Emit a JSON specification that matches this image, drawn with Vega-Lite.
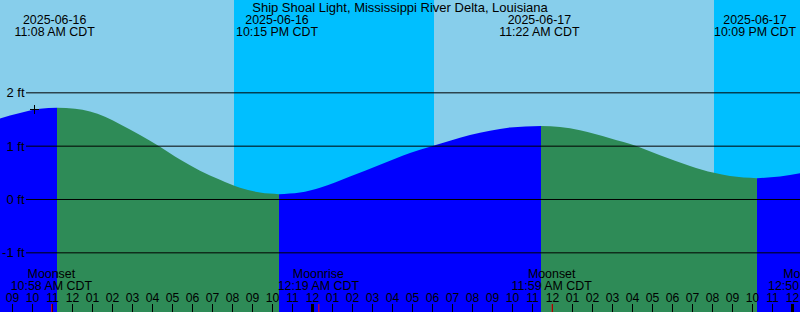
{
  "$schema": "https://vega.github.io/schema/vega-lite/v6.json",
  "width": 800,
  "height": 312,
  "autosize": {"type": "none"},
  "padding": 0,
  "background": "#87CEEB",
  "config": {"view": {"stroke": null}, "font": "Liberation Sans"},
  "datasets": {
    "night": [
      {"start": 20.1, "end": 30.1},
      {"start": 44.1, "end": 48.4}
    ],
    "tide": [
      {"hour": 8.4, "ft": 1.52, "seg": "a", "phase": "rising"},
      {"hour": 9.4, "ft": 1.62, "seg": "a", "phase": "rising"},
      {"hour": 10.4, "ft": 1.70, "seg": "a", "phase": "rising"},
      {"hour": 11.25, "ft": 1.72, "seg": "a", "phase": "rising"},
      {"hour": 11.25, "ft": 1.72, "seg": "b", "phase": "falling"},
      {"hour": 12.15, "ft": 1.70, "seg": "b", "phase": "falling"},
      {"hour": 12.9, "ft": 1.65, "seg": "b", "phase": "falling"},
      {"hour": 13.65, "ft": 1.55, "seg": "b", "phase": "falling"},
      {"hour": 14.4, "ft": 1.41, "seg": "b", "phase": "falling"},
      {"hour": 15.4, "ft": 1.21, "seg": "b", "phase": "falling"},
      {"hour": 16.4, "ft": 0.99, "seg": "b", "phase": "falling"},
      {"hour": 17.4, "ft": 0.75, "seg": "b", "phase": "falling"},
      {"hour": 18.4, "ft": 0.54, "seg": "b", "phase": "falling"},
      {"hour": 19.4, "ft": 0.37, "seg": "b", "phase": "falling"},
      {"hour": 20.4, "ft": 0.22, "seg": "b", "phase": "falling"},
      {"hour": 21.4, "ft": 0.13, "seg": "b", "phase": "falling"},
      {"hour": 22.35, "ft": 0.10, "seg": "b", "phase": "falling"},
      {"hour": 22.35, "ft": 0.10, "seg": "c", "phase": "rising"},
      {"hour": 23.4, "ft": 0.13, "seg": "c", "phase": "rising"},
      {"hour": 24.4, "ft": 0.22, "seg": "c", "phase": "rising"},
      {"hour": 25.9, "ft": 0.43, "seg": "c", "phase": "rising"},
      {"hour": 27.4, "ft": 0.65, "seg": "c", "phase": "rising"},
      {"hour": 28.9, "ft": 0.87, "seg": "c", "phase": "rising"},
      {"hour": 29.9, "ft": 0.99, "seg": "c", "phase": "rising"},
      {"hour": 30.9, "ft": 1.10, "seg": "c", "phase": "rising"},
      {"hour": 31.9, "ft": 1.21, "seg": "c", "phase": "rising"},
      {"hour": 32.9, "ft": 1.29, "seg": "c", "phase": "rising"},
      {"hour": 33.9, "ft": 1.35, "seg": "c", "phase": "rising"},
      {"hour": 35.45, "ft": 1.38, "seg": "c", "phase": "rising"},
      {"hour": 35.45, "ft": 1.38, "seg": "d", "phase": "falling"},
      {"hour": 36.4, "ft": 1.36, "seg": "d", "phase": "falling"},
      {"hour": 37.4, "ft": 1.30, "seg": "d", "phase": "falling"},
      {"hour": 38.9, "ft": 1.15, "seg": "d", "phase": "falling"},
      {"hour": 40.25, "ft": 1.00, "seg": "d", "phase": "falling"},
      {"hour": 41.4, "ft": 0.83, "seg": "d", "phase": "falling"},
      {"hour": 42.9, "ft": 0.63, "seg": "d", "phase": "falling"},
      {"hour": 44.1, "ft": 0.50, "seg": "d", "phase": "falling"},
      {"hour": 44.9, "ft": 0.44, "seg": "d", "phase": "falling"},
      {"hour": 46.25, "ft": 0.40, "seg": "d", "phase": "falling"},
      {"hour": 46.25, "ft": 0.40, "seg": "e", "phase": "rising"},
      {"hour": 47.4, "ft": 0.43, "seg": "e", "phase": "rising"},
      {"hour": 48.4, "ft": 0.49, "seg": "e", "phase": "rising"}
    ],
    "levels": [{"ft": 2}, {"ft": 1}, {"ft": 0}, {"ft": -1}],
    "hours": [
      {"hour": 9, "label": "09"}, {"hour": 10, "label": "10"}, {"hour": 11, "label": "11"}, {"hour": 12, "label": "12"},
      {"hour": 13, "label": "01"}, {"hour": 14, "label": "02"}, {"hour": 15, "label": "03"}, {"hour": 16, "label": "04"},
      {"hour": 17, "label": "05"}, {"hour": 18, "label": "06"}, {"hour": 19, "label": "07"}, {"hour": 20, "label": "08"},
      {"hour": 21, "label": "09"}, {"hour": 22, "label": "10"}, {"hour": 23, "label": "11"}, {"hour": 24, "label": "12"},
      {"hour": 25, "label": "01"}, {"hour": 26, "label": "02"}, {"hour": 27, "label": "03"}, {"hour": 28, "label": "04"},
      {"hour": 29, "label": "05"}, {"hour": 30, "label": "06"}, {"hour": 31, "label": "07"}, {"hour": 32, "label": "08"},
      {"hour": 33, "label": "09"}, {"hour": 34, "label": "10"}, {"hour": 35, "label": "11"}, {"hour": 36, "label": "12"},
      {"hour": 37, "label": "01"}, {"hour": 38, "label": "02"}, {"hour": 39, "label": "03"}, {"hour": 40, "label": "04"},
      {"hour": 41, "label": "05"}, {"hour": 42, "label": "06"}, {"hour": 43, "label": "07"}, {"hour": 44, "label": "08"},
      {"hour": 45, "label": "09"}, {"hour": 46, "label": "10"}, {"hour": 47, "label": "11"}, {"hour": 48, "label": "12"}
    ],
    "tideEvents": [
      {"hour": 11.133, "label": "2025-06-16\n11:08 AM CDT"},
      {"hour": 22.25, "label": "2025-06-16\n10:15 PM CDT"},
      {"hour": 35.367, "label": "2025-06-17\n11:22 AM CDT"},
      {"hour": 46.15, "label": "2025-06-17\n10:09 PM CDT"}
    ],
    "moonEvents": [
      {"hour": 10.967, "label": "Moonset\n10:58 AM CDT"},
      {"hour": 24.317, "label": "Moonrise\n12:19 AM CDT"},
      {"hour": 35.983, "label": "Moonset\n11:59 AM CDT"},
      {"hour": 48.833, "label": "Moonrise\n12:50 AM CDT"}
    ],
    "midnights": [{"hour": 24}, {"hour": 48}],
    "now": [{"hour": 10.125, "ft": 1.6875}],
    "titles": [{"hour": 28.4, "label": "Ship Shoal Light, Mississippi River Delta, Louisiana"}]
  },
  "layer": [
    {
      "data": {"name": "night"},
      "mark": {"type": "rect", "color": "#00BFFF", "opacity": 1, "clip": true},
      "encoding": {
        "x": {"field": "start", "type": "quantitative", "axis": null},
        "x2": {"field": "end"}
      }
    },
    {
      "data": {"name": "tide"},
      "mark": {"type": "area", "interpolate": "monotone", "opacity": 1, "clip": true},
      "encoding": {
        "x": {
          "field": "hour",
          "type": "quantitative",
          "scale": {"domain": [8.4, 48.4], "nice": false, "zero": false},
          "axis": null
        },
        "y": {
          "field": "ft",
          "type": "quantitative",
          "stack": null,
          "scale": {"domain": [-2.1094, 3.7406], "nice": false, "zero": false},
          "axis": {
            "orient": "left",
            "offset": -26,
            "values": [2, 1, 0, -1],
            "domain": false,
            "grid": false,
            "ticks": false,
            "tickSize": 0,
            "labelExpr": "datum.value + ' ft'",
            "labelFont": "Liberation Sans",
            "labelFontSize": 13,
            "labelColor": "#000000",
            "labelPadding": 2,
            "labelBaseline": "middle",
            "labelOverlap": false,
            "labelBound": false,
            "title": null,
            "zindex": 2
          }
        },
        "y2": {"datum": -2.1094},
        "color": {
          "field": "phase",
          "type": "nominal",
          "scale": {"domain": ["rising", "falling"], "range": ["#0000FF", "#2E8B57"]},
          "legend": null
        },
        "detail": {"field": "seg", "type": "nominal"}
      }
    },
    {
      "data": {"name": "levels"},
      "mark": {"type": "rule", "color": "#000000", "strokeWidth": 1},
      "encoding": {
        "y": {"field": "ft", "type": "quantitative"},
        "x": {"datum": 9.7},
        "x2": {"datum": 48.4}
      }
    },
    {
      "data": {"name": "tideEvents"},
      "mark": {"type": "text", "align": "center", "baseline": "alphabetic", "lineBreak": "\n", "lineHeight": 12, "font": "Liberation Sans", "fontSize": 12.4, "color": "#000000"},
      "encoding": {
        "x": {"field": "hour", "type": "quantitative"},
        "y": {"datum": 3.2906},
        "text": {"field": "label"}
      }
    },
    {
      "data": {"name": "moonEvents"},
      "mark": {"type": "text", "align": "center", "baseline": "alphabetic", "lineBreak": "\n", "lineHeight": 12, "font": "Liberation Sans", "fontSize": 12.4, "color": "#000000"},
      "encoding": {
        "x": {"field": "hour", "type": "quantitative"},
        "y": {"datum": -1.4719},
        "text": {"field": "label"}
      }
    },
    {
      "data": {"name": "hours"},
      "mark": {"type": "text", "align": "center", "baseline": "alphabetic", "font": "Liberation Sans", "fontSize": 12.2, "color": "#000000", "xOffset": 0.5},
      "encoding": {
        "x": {"field": "hour", "type": "quantitative"},
        "y": {"datum": -1.9219},
        "text": {"field": "label"}
      }
    },
    {
      "data": {"name": "titles"},
      "mark": {"type": "text", "align": "center", "baseline": "alphabetic", "font": "Liberation Sans", "fontSize": 13, "color": "#000000"},
      "encoding": {
        "x": {"field": "hour", "type": "quantitative"},
        "y": {"datum": 3.5156},
        "text": {"field": "label"}
      }
    },
    {
      "data": {"name": "hours"},
      "mark": {"type": "rule", "color": "#000000", "strokeWidth": 1, "xOffset": 0.5, "clip": true},
      "encoding": {
        "x": {"field": "hour", "type": "quantitative"},
        "y": {"datum": -2.1094},
        "y2": {"datum": -1.9594}
      }
    },
    {
      "data": {"name": "moonEvents"},
      "mark": {"type": "rule", "color": "#FF0000", "strokeWidth": 1, "xOffset": 0.5, "clip": true},
      "encoding": {
        "x": {"field": "hour", "type": "quantitative"},
        "y": {"datum": -2.1094},
        "y2": {"datum": -1.9594}
      }
    },
    {
      "data": {"name": "midnights"},
      "mark": {"type": "rule", "color": "#000000", "strokeWidth": 3, "xOffset": 0.5, "clip": true},
      "encoding": {
        "x": {"field": "hour", "type": "quantitative"},
        "y": {"datum": -2.1094},
        "y2": {"datum": -1.9594}
      }
    },
    {
      "data": {"name": "now"},
      "mark": {"type": "point", "shape": "M-1,0L1,0M0,-1L0,1", "size": 81, "filled": false, "color": "#000000", "opacity": 1, "strokeWidth": 1},
      "encoding": {
        "x": {"field": "hour", "type": "quantitative"},
        "y": {"field": "ft", "type": "quantitative"}
      }
    }
  ]
}
